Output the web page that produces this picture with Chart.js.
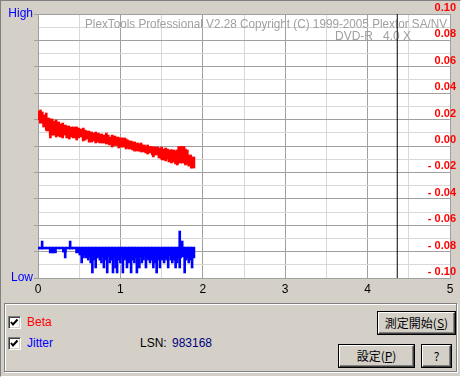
<!DOCTYPE html>
<html>
<head>
<meta charset="utf-8">
<script src="https://cdn.jsdelivr.net/npm/chart.js@4/dist/chart.umd.min.js"></script>
<style>
  html, body { margin: 0; padding: 0; }
  body {
    width: 461px; height: 377px; position: relative; overflow: hidden;
    background: #d4d0c8; font-family: "Liberation Sans", Arial, sans-serif; font-size: 12px;
  }
  #marco {
    position: absolute; left: 0; top: 0; width: 459px; height: 375px;
    border-top: 1px solid #808080; border-left: 1px solid #808080;
    border-right: 1px solid #ffffff; border-bottom: 1px solid #ffffff;
  }
  #grafico { position: absolute; left: 0; top: 0; }
  #grupo {
    position: absolute; left: 4px; top: 303px; width: 451px; height: 67px;
    border: 1px solid #808080; box-shadow: 1px 1px 0 #fff, inset 1px 1px 0 #fff;
  }
  .chk {
    position: absolute; width: 13px; height: 13px; box-sizing: border-box; background: #fff;
    border-top: 1px solid #808080; border-left: 1px solid #808080;
    border-right: 1px solid #fff; border-bottom: 1px solid #fff;
    box-shadow: inset 1px 1px 0 #404040, inset -1px -1px 0 #d4d0c8;
  }
  .chk svg { position: absolute; left: 1px; top: 1px; }
  .txt { position: absolute; line-height: 14px; white-space: nowrap; }
  .btn {
    position: absolute; box-sizing: border-box; background: #d4d0c8;
    border-top: 1px solid #fff; border-left: 1px solid #fff;
    border-right: 1px solid #404040; border-bottom: 1px solid #404040;
    box-shadow: inset -1px -1px 0 #808080, 0 0 0 1px #000;
    font-family: "Noto Sans CJK JP", sans-serif; font-size: 12px; color: #000;
    text-align: center; white-space: nowrap;
  }
</style>
</head>
<body>
<div id="marco"></div>
<canvas id="grafico" width="461" height="300"></canvas>
<div id="grupo"></div>

<div class="chk" style="left:8px;top:316px"><svg width="9" height="9"><polyline points="1,4 3,6.5 7.5,1.5" fill="none" stroke="#000" stroke-width="2"/></svg></div>
<div class="txt" style="left:27px;top:315px;color:#ff0000">Beta</div>
<div class="chk" style="left:8px;top:337px"><svg width="9" height="9"><polyline points="1,4 3,6.5 7.5,1.5" fill="none" stroke="#000" stroke-width="2"/></svg></div>
<div class="txt" style="left:27px;top:336px;color:#0000ff">Jitter</div>
<div class="txt" style="left:140px;top:336px;color:#000">LSN:</div>
<div class="txt" id="lsn" style="left:172px;top:336px;color:#000080"></div>

<div class="btn" style="left:378px;top:312px;width:77px;height:22px;line-height:20px">測定開始(<u>S</u>)</div>
<div class="btn" style="left:339px;top:345px;width:75px;height:22px;line-height:20px">設定(<u>P</u>)</div>
<div class="btn" style="left:422px;top:345px;width:29px;height:22px;line-height:20px">?</div>

<script>
// posición en el disco (GB) de cada muestra
const posGB = [0.00, 0.04, 0.08, 0.12, 0.16, 0.20, 0.24, 0.28, 0.32, 0.36, 0.40, 0.44,
  0.48, 0.52, 0.56, 0.60, 0.64, 0.68, 0.72, 0.76, 0.80, 0.84, 0.88, 0.92, 0.96, 1.00,
  1.04, 1.08, 1.12, 1.16, 1.20, 1.24, 1.28, 1.32, 1.36, 1.40, 1.44, 1.48, 1.52, 1.56,
  1.60, 1.64, 1.68, 1.72, 1.76, 1.80, 1.84, 1.88];

// Beta: borde superior e inferior de la banda roja
const betaHigh = [0.0265, 0.0258, 0.0235, 0.0212, 0.0205, 0.0189, 0.0182, 0.0167, 0.0159, 0.0152,
  0.0144, 0.0144, 0.0136, 0.0129, 0.0121, 0.0114, 0.0106, 0.0098, 0.0098, 0.0091,
  0.0083, 0.0083, 0.0068, 0.0076, 0.0068, 0.0061, 0.0061, 0.0045, 0.0038, 0.0030,
  0.0023, 0.0015, 0.0008, 0.0000, 0.0000, -0.0008, -0.0008, -0.0015, -0.0023, -0.0023,
  -0.0030, -0.0030, -0.0038, 0.0000, 0.0000, -0.0030, -0.0068, -0.0083];
const betaLow = [0.0197, 0.0174, 0.0144, 0.0114, 0.0083, 0.0083, 0.0076, 0.0068, 0.0083, 0.0061,
  0.0068, 0.0061, 0.0061, 0.0068, 0.0045, 0.0053, 0.0030, 0.0038, 0.0030, 0.0023,
  0.0023, 0.0015, 0.0008, 0.0000, 0.0000, -0.0008, -0.0008, -0.0015, -0.0023, -0.0030,
  -0.0038, -0.0038, -0.0045, -0.0053, -0.0053, -0.0068, -0.0068, -0.0091, -0.0106, -0.0098,
  -0.0121, -0.0121, -0.0136, -0.0129, -0.0129, -0.0136, -0.0152, -0.0167];

// Beta: picos sueltos
const betaPicoGB = [0.03, 0.10, 0.15, 0.22, 0.30, 0.38, 0.47, 0.55, 0.62, 0.70, 0.83, 0.90,
  0.98, 1.07, 1.17, 1.25, 1.33, 1.40, 1.50, 1.55, 1.62, 1.69, 1.79, 1.86];
const betaPicoLow = [0.0174, 0.0121, 0.0061, 0.0068, 0.0061, 0.0053, 0.0045, 0.0038, 0.0030, 0.0023,
  0.0030, -0.0008, -0.0015, -0.0023, -0.0038, -0.0045, -0.0061, -0.0083, -0.0098, -0.0113,
  -0.0129, -0.0144, -0.0144, -0.0167];
const betaPicoHigh = [0.0273, 0.0250, 0.0200, 0.0197, 0.0174, 0.0140, 0.0144, 0.0136, 0.0110, 0.0106,
  0.0098, 0.0083, 0.0060, 0.0053, 0.0030, 0.0023, 0.0008, -0.0008, -0.0008, -0.0015,
  -0.0030, -0.0030, -0.0023, -0.0083];

// Jitter (escala relativa 0 = Low, 100 = High)
const jitterTecho = 11.7;
const jitterLow = [11.0, 11.0, 11.0, 11.0, 9.5, 9.5, 11.0, 11.0, 9.8, 11.0,
  11.0, 11.0, 9.5, 8.7, 8.7, 9.1, 8.0, 8.7, 8.0, 8.4,
  8.0, 8.4, 8.0, 7.6, 8.0, 8.4, 7.6, 8.0, 7.6, 8.4,
  7.6, 8.0, 8.4, 7.6, 8.0, 7.6, 8.4, 7.6, 8.0, 7.6,
  8.4, 7.6, 8.0, 7.6, 8.0, 7.6, 8.4, 7.6];

// Jitter: picos sueltos
const jitterPicoGB = [0.05, 0.33, 0.39, 0.53, 0.55, 0.58, 0.61, 0.64, 0.66, 0.68, 0.70, 0.72,
  0.75, 0.77, 0.80, 0.82, 0.84, 0.87, 0.89, 0.91, 0.94, 0.96, 0.98, 1.00, 1.03, 1.05,
  1.08, 1.10, 1.13, 1.15, 1.17, 1.20, 1.23, 1.26, 1.28, 1.31, 1.34, 1.36, 1.38, 1.40,
  1.42, 1.44, 1.46, 1.48, 1.51, 1.53, 1.56, 1.58, 1.61, 1.63, 1.65, 1.67, 1.69, 1.72,
  1.75, 1.78, 1.80, 1.83, 1.85, 1.87];
const jitterPicoLow = [11.0, 7.6, 11.0, 5.7, 7.6, 7.6, 6.8, 5.7, 1.9, 6.8, 3.8, 7.6,
  6.8, 5.7, 3.8, 6.8, 1.9, 5.7, 6.8, 1.9, 3.8, 1.9, 6.8, 5.7, 1.9, 6.8,
  3.8, 5.7, 1.9, 6.8, 5.7, 1.9, 3.8, 5.7, 6.8, 3.8, 6.8, 5.7, 6.8, 3.8,
  5.7, 1.9, 6.8, 3.8, 6.8, 5.7, 6.8, 3.8, 6.8, 5.7, 6.8, 3.8, 5.7, 3.8,
  9.0, 1.9, 6.8, 5.7, 6.8, 3.8];
const jitterPicoHigh = [14.0, 11.0, 14.0, 11.0, 11.0, 11.0, 11.0, 11.0, 11.0, 11.0, 11.0, 11.0,
  11.0, 11.0, 11.0, 11.0, 11.0, 11.0, 11.0, 11.0, 11.0, 11.0, 11.0, 11.0, 11.0, 11.0,
  11.0, 11.0, 11.0, 11.0, 11.0, 11.0, 11.0, 11.0, 11.0, 11.0, 11.0, 11.0, 11.0, 11.0,
  11.0, 11.0, 11.0, 11.0, 11.0, 11.0, 11.0, 11.0, 11.0, 11.0, 11.0, 11.0, 11.0, 17.8,
  14.0, 11.0, 11.0, 11.0, 11.0, 11.0];

// capacidad del disco (línea negra)
const capacidadGB = 4.36;

// etiquetas de los ejes
const xTickValues = [0, 1, 2, 3, 4, 5];
const xTickLabels = ["0", "1", "2", "3", "4", "5"];
const betaTickValues = [0.10, 0.08, 0.06, 0.04, 0.02, 0.00, -0.02, -0.04, -0.06, -0.08, -0.10];
const betaTickLabels = ["0.10", "0.08", "0.06", "0.04", "0.02", "0.00", "- 0.02", "- 0.04", "- 0.06", "- 0.08", "- 0.10"];
const jitterTickValues = [0, 100];
const jitterTickLabels = ["Low", "High"];

const marcaAgua = ["PlexTools Professional V2.28 Copyright (C) 1999-2005 Plextor SA/NV", "DVD-R   4.0 X"];
const lsn = "983168";

const gridOscuro = "#a0a0a0";
const gridClaro = "#d8d8d8";

document.getElementById("lsn").textContent = lsn;

const buscar = (valores, etiquetas, v) => {
  const i = valores.findIndex((t) => Math.abs(t - v) < 1e-6);
  return i >= 0 ? etiquetas[i] : "";
};

const aPuntos = (xs, lo, hi) => xs.map((x, i) => ({ x: x, y: [lo[i], Array.isArray(hi) ? hi[i] : hi] }));

const sinPadding = (s) => {
  s.paddingTop = 0;
  s.paddingBottom = 0;
  s.paddingLeft = 0;
  s.paddingRight = 0;
};

// fondo blanco y texto de marca de agua
const fondo = {
  id: "fondo",
  beforeDraw(chart) {
    const { ctx, chartArea: a } = chart;
    ctx.save();
    ctx.fillStyle = "#ffffff";
    ctx.fillRect(a.left, a.top, a.right - a.left, a.bottom - a.top);
    ctx.restore();
  },
  beforeDatasetsDraw(chart) {
    const { ctx, chartArea: a } = chart;
    ctx.save();
    ctx.fillStyle = "#a0a0a0";
    ctx.font = '12px "Liberation Sans"';
    ctx.textBaseline = "middle";
    ctx.textAlign = "right";
    ctx.fillText(marcaAgua[0], a.right - 3, 25, 362);
    ctx.textAlign = "left";
    ctx.fillText(marcaAgua[1], 335, 37);
    ctx.restore();
  },
};

const ctxGrafico = document.getElementById("grafico");

new Chart(ctxGrafico, {
  type: "bar",
  data: {
    datasets: [
      {
        label: "Jitter",
        data: aPuntos(posGB, jitterLow, jitterTecho),
        yAxisID: "yJ",
        backgroundColor: "#0000ff",
        barThickness: 4,
        grouped: false,
      },
      {
        label: "Jitter picos",
        data: aPuntos(jitterPicoGB, jitterPicoLow, jitterPicoHigh),
        yAxisID: "yJ",
        backgroundColor: "#0000ff",
        barThickness: 2,
        grouped: false,
      },
      {
        label: "Beta",
        data: aPuntos(posGB, betaLow, betaHigh),
        yAxisID: "y",
        backgroundColor: "#ff0000",
        barThickness: 4,
        grouped: false,
      },
      {
        label: "Beta picos",
        data: aPuntos(betaPicoGB, betaPicoLow, betaPicoHigh),
        yAxisID: "y",
        backgroundColor: "#ff0000",
        barThickness: 2,
        grouped: false,
      },
      {
        type: "line",
        label: "Capacidad",
        data: [{ x: capacidadGB, y: -0.1 }, { x: capacidadGB, y: 0.1 }],
        yAxisID: "y",
        borderColor: "#000000",
        borderWidth: 1,
        pointRadius: 0,
      },
    ],
  },
  options: {
    responsive: false,
    animation: false,
    devicePixelRatio: 1,
    layout: { padding: { top: 14, right: 11, left: 0, bottom: 0 } },
    plugins: { legend: { display: false }, tooltip: { enabled: false } },
    scales: {
      x: {
        type: "linear",
        position: "bottom",
        min: 0,
        max: 5,
        offset: false,
        ticks: {
          stepSize: 0.5,
          autoSkip: false,
          maxRotation: 0,
          padding: 4,
          color: "#000000",
          font: { family: "Liberation Sans", size: 12 },
          callback: (v) => buscar(xTickValues, xTickLabels, v),
        },
        grid: {
          offset: false,
          drawTicks: false,
          color: (c) => (Math.abs(c.tick.value - Math.round(c.tick.value)) < 1e-6 ? gridOscuro : gridClaro),
        },
        border: { color: gridOscuro },
        afterFit: (s) => {
          s.height = 22;
          sinPadding(s);
        },
      },
      y: {
        position: "right",
        min: -0.1,
        max: 0.1,
        ticks: {
          stepSize: 0.01,
          autoSkip: false,
          mirror: true,
          padding: 6,
          labelOffset: -6,
          z: 1,
          color: "#ff0000",
          font: { family: "Liberation Sans", size: 11, weight: "bold" },
          callback: (v) => buscar(betaTickValues, betaTickLabels, v),
        },
        grid: {
          drawTicks: false,
          color: (c) => (Math.round(c.tick.value * 100) % 2 === 0 ? gridOscuro : gridClaro),
        },
        border: { color: gridOscuro },
        afterFit: (s) => {
          s.width = 0;
          sinPadding(s);
        },
      },
      yJ: {
        position: "left",
        min: 0,
        max: 100,
        ticks: {
          stepSize: 10,
          autoSkip: false,
          padding: 1,
          color: "#0000ff",
          font: { family: "Liberation Sans", size: 12 },
          callback: (v) => buscar(jitterTickValues, jitterTickLabels, v),
        },
        grid: {
          drawOnChartArea: false,
          drawTicks: true,
          tickLength: 4,
          color: gridOscuro,
        },
        border: { color: gridOscuro },
        afterFit: (s) => {
          s.width = 38;
          sinPadding(s);
        },
      },
    },
  },
  plugins: [fondo],
});
</script>
</body>
</html>
